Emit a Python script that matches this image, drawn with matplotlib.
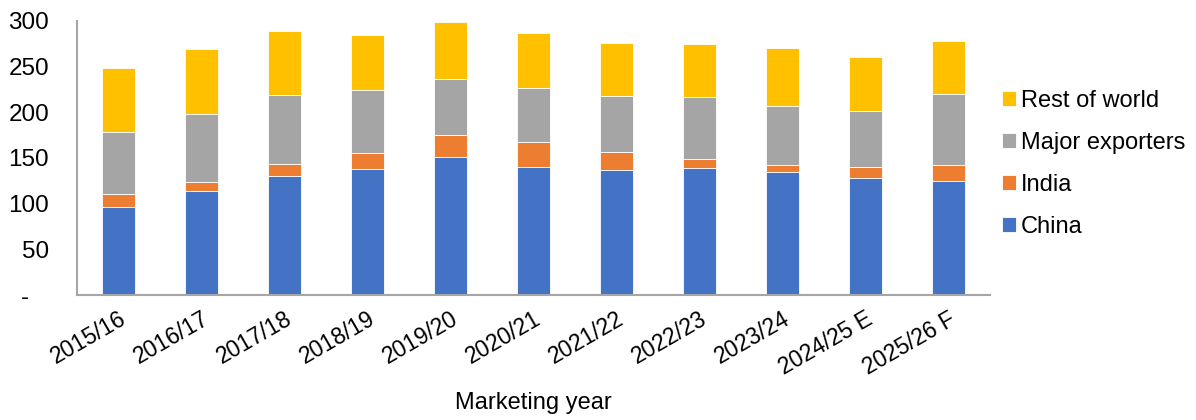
import matplotlib.pyplot as plt
import numpy as np

plt.rcParams['font.family'] = ['Liberation Sans', 'DejaVu Sans']

# Данные (млн т)
years = ["2015/16", "2016/17", "2017/18", "2018/19", "2019/20", "2020/21",
         "2021/22", "2022/23", "2023/24", "2024/25 E", "2025/26 F"]
china = [96, 114, 130, 138, 151, 140, 137, 139.5, 135, 128.5, 125]
india = [14.5, 10, 13.5, 17.5, 24.5, 27.5, 19.7, 9.5, 7.7, 11.8, 17.6]
major_exporters = [68, 74.5, 75.5, 69, 61.3, 59.5, 61.2, 67.4, 63.8, 61.6, 77.7]
rest_of_world = [70, 70.5, 69.7, 60.5, 62.5, 59.5, 57.8, 58.8, 63.5, 58.8, 57.7]

series = [
    ("China", china, "#4472C4"),
    ("India", india, "#ED7D31"),
    ("Major exporters", major_exporters, "#A5A5A5"),
    ("Rest of world", rest_of_world, "#FFC000"),
]


def main() -> None:
    fig = plt.figure(figsize=(11.96, 4.2), dpi=100)
    ax = fig.add_axes([77 / 1196, 1 - 295 / 420, (990 - 77) / 1196, (295 - 21) / 420])

    x = np.arange(len(years))
    bottom = np.zeros(len(years))
    handles = []
    for name, vals, color in series:
        vals = np.array(vals, dtype=float)
        h = ax.bar(x, vals, width=0.4, bottom=bottom, color=color,
                   edgecolor="white", linewidth=0.6, label=name)
        handles.append(h)
        bottom += vals

    ax.set_xlim(-0.5, len(years) - 0.5)
    ax.set_ylim(0, 300)
    ax.set_yticks(range(0, 301, 50))
    # ноль в Excel-формате показан прочерком
    ax.set_yticklabels(["-   "] + [str(v) for v in range(50, 301, 50)], fontsize=17.5)
    ax.set_xticks(x)
    ax.set_xticklabels(years, rotation=30, ha="right", rotation_mode="anchor",
                       fontsize=16.5)
    ax.tick_params(axis="y", length=0, pad=20)
    ax.tick_params(axis="x", length=0, pad=9)
    for side in ("top", "right"):
        ax.spines[side].set_visible(False)
    for side in ("left", "bottom"):
        ax.spines[side].set_color("#A6A6A6")
        ax.spines[side].set_linewidth(1.5)

    ax.set_xlabel("Marketing year", fontsize=17, labelpad=9)

    fig.legend(handles[::-1], [s[0] for s in series][::-1],
               loc="center left", bbox_to_anchor=(981 / 1196, 1 - 164 / 420),
               frameon=False, fontsize=17, handlelength=0.6,
               handleheight=0.6, handletextpad=0.2, labelspacing=0.85)

    fig.savefig("out.png", dpi=100)
    plt.close(fig)


if __name__ == "__main__":
    main()
